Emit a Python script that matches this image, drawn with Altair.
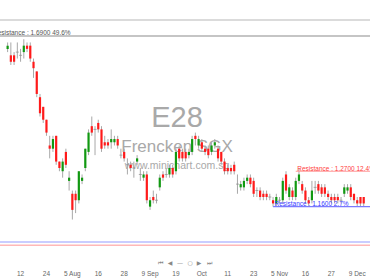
import altair as alt
import pandas as pd

# Daily candles (SGD), one per trading day
opens = [1.65, 1.63, 1.63, 1.64, 1.63, 1.64, 1.66, 1.66, 1.61, 1.58,
         1.50, 1.47, 1.43, 1.35, 1.34, 1.38, 1.30, 1.27, 1.33, 1.24,
         1.20, 1.20, 1.18, 1.24, 1.28, 1.33, 1.41, 1.40, 1.42, 1.40,
         1.36, 1.36, 1.36, 1.36, 1.37, 1.32, 1.33, 1.29, 1.29, 1.28,
         1.30, 1.26, 1.25, 1.26, 1.16, 1.19, 1.18, 1.22, 1.26, 1.26,
         1.26, 1.28, 1.27, 1.34, 1.33, 1.33, 1.32, 1.33, 1.38, 1.35,
         1.36, 1.34, 1.34, 1.33, 1.35, 1.34, 1.33, 1.30, 1.28, 1.28,
         1.29, 1.23, 1.22, 1.22, 1.24, 1.25, 1.24, 1.21, 1.21, 1.20,
         1.20, 1.19, 1.18, 1.17, 1.18, 1.18, 1.26, 1.19, 1.21, 1.19,
         1.24, 1.23, 1.21, 1.18, 1.18, 1.22, 1.23, 1.22, 1.22, 1.20,
         1.19, 1.19, 1.19, 1.18, 1.20, 1.21, 1.22, 1.20, 1.18, 1.19,
         1.19]
highs = [1.67, 1.67, 1.64, 1.67, 1.65, 1.68, 1.67, 1.67, 1.62, 1.58,
         1.51, 1.47, 1.43, 1.38, 1.38, 1.38, 1.30, 1.31, 1.34, 1.27,
         1.21, 1.21, 1.27, 1.26, 1.34, 1.40, 1.44, 1.41, 1.43, 1.41,
         1.38, 1.37, 1.40, 1.38, 1.38, 1.34, 1.34, 1.31, 1.30, 1.30,
         1.32, 1.28, 1.27, 1.27, 1.19, 1.21, 1.20, 1.26, 1.27, 1.28,
         1.29, 1.29, 1.34, 1.35, 1.34, 1.34, 1.34, 1.38, 1.39, 1.38,
         1.37, 1.35, 1.35, 1.36, 1.37, 1.35, 1.33, 1.31, 1.29, 1.29,
         1.30, 1.26, 1.24, 1.25, 1.26, 1.26, 1.25, 1.22, 1.22, 1.21,
         1.21, 1.20, 1.19, 1.20, 1.19, 1.25, 1.27, 1.23, 1.22, 1.25,
         1.28, 1.24, 1.22, 1.19, 1.24, 1.24, 1.24, 1.23, 1.23, 1.21,
         1.20, 1.20, 1.20, 1.19, 1.23, 1.23, 1.23, 1.20, 1.19, 1.19,
         1.19]
lows = [1.64, 1.60, 1.60, 1.62, 1.61, 1.62, 1.64, 1.61, 1.56, 1.50,
        1.44, 1.42, 1.38, 1.31, 1.33, 1.29, 1.27, 1.25, 1.28, 1.21,
        1.12, 1.14, 1.17, 1.23, 1.27, 1.32, 1.38, 1.32, 1.39, 1.33,
        1.34, 1.34, 1.34, 1.35, 1.34, 1.31, 1.30, 1.26, 1.27, 1.25,
        1.29, 1.24, 1.24, 1.17, 1.15, 1.17, 1.17, 1.21, 1.24, 1.25,
        1.25, 1.25, 1.26, 1.30, 1.30, 1.30, 1.31, 1.32, 1.35, 1.34,
        1.33, 1.32, 1.31, 1.32, 1.34, 1.30, 1.29, 1.26, 1.26, 1.26,
        1.26, 1.20, 1.21, 1.21, 1.23, 1.22, 1.19, 1.19, 1.18, 1.18,
        1.18, 1.18, 1.16, 1.16, 1.17, 1.17, 1.20, 1.18, 1.18, 1.18,
        1.23, 1.20, 1.17, 1.16, 1.17, 1.20, 1.20, 1.19, 1.19, 1.18,
        1.17, 1.17, 1.17, 1.17, 1.19, 1.20, 1.18, 1.17, 1.16, 1.16,
        1.16]
closes = [1.66, 1.61, 1.61, 1.64, 1.63, 1.66, 1.65, 1.62, 1.59, 1.51,
          1.45, 1.43, 1.39, 1.34, 1.37, 1.30, 1.28, 1.30, 1.29, 1.25,
          1.15, 1.18, 1.27, 1.25, 1.34, 1.39, 1.39, 1.40, 1.40, 1.34,
          1.35, 1.35, 1.37, 1.37, 1.35, 1.32, 1.31, 1.29, 1.28, 1.28,
          1.31, 1.26, 1.26, 1.18, 1.18, 1.18, 1.18, 1.25, 1.25, 1.26,
          1.28, 1.26, 1.33, 1.31, 1.31, 1.31, 1.33, 1.37, 1.37, 1.37,
          1.34, 1.33, 1.32, 1.35, 1.36, 1.31, 1.30, 1.27, 1.27, 1.27,
          1.27, 1.23, 1.23, 1.24, 1.25, 1.23, 1.20, 1.21, 1.19, 1.19,
          1.19, 1.19, 1.17, 1.19, 1.18, 1.24, 1.21, 1.22, 1.19, 1.24,
          1.26, 1.21, 1.18, 1.17, 1.21, 1.22, 1.21, 1.20, 1.20, 1.19,
          1.18, 1.18, 1.18, 1.18, 1.22, 1.22, 1.19, 1.18, 1.17, 1.17,
          1.17]

# Date labels along the bottom, every 8th session
tick_pos = [4, 12, 20, 28, 36, 44, 52, 60, 68, 76, 84, 92, 100, 108]
tick_text = ["12", "24", "5 Aug", "16", "28", "9 Sep", "19", "Oct",
             "11", "23", "5 Nov", "16", "27", "9 Dec"]

# Horizontal price levels: start session, price, label, colours
level_start = [-5, 89, 82]
level_price = [1.69, 1.27, 1.16]
level_text = ["Resistance : 1.6900 49.6%", "Resistance : 1.2700 12.4%",
              "Resistance : 1.1600 2.7%"]
level_line = ["#8c8c8c", "#ff9a9a", "#7a7aff"]
level_font = ["#555555", "#ff4040", "#3a3aff"]

# Frame guide lines
frame_price = [1.74, 1.05, 1.04]
frame_color = ["#cfcfcf", "#b8bcff", "#ffb8b8"]

W, H = 370, 278
x_dom = [-0.809, 110.40]
y_dom = [0.93845, 1.80180]

n = len(opens)
df = pd.DataFrame({"i": list(range(n)), "open": opens, "high": highs,
                   "low": lows, "close": closes})
df["dir"] = ["up" if c > o else ("down" if c < o else "flat")
             for o, c in zip(opens, closes)]

xs = alt.Scale(domain=x_dom, nice=False, zero=False)
ys = alt.Scale(domain=y_dom, nice=False, zero=False)
X = alt.X("i:Q", scale=xs, axis=None)

color = alt.Color("dir:N", legend=None,
                  scale=alt.Scale(domain=["up", "down", "flat"],
                                  range=["#119911", "#ff1a1a", "#9a9a9a"]))

frame_df = pd.DataFrame({"p": frame_price, "c": frame_color})
frame = alt.Chart(frame_df).mark_rule(strokeWidth=1.5).encode(
    y=alt.Y("p:Q", scale=ys, axis=None),
    color=alt.Color("c:N", scale=None, legend=None),
)

lv = pd.DataFrame({"s": level_start, "p": level_price, "t": level_text,
                   "lc": level_line, "fc": level_font})
level_rules = alt.Chart(lv).mark_rule(strokeWidth=1.2, clip=True).encode(
    x=alt.X("s:Q", scale=xs, axis=None),
    x2=alt.value(W),
    y=alt.Y("p:Q", scale=ys, axis=None),
    color=alt.Color("lc:N", scale=None, legend=None),
)
level_labels = alt.Chart(lv).mark_text(
    align="left", baseline="alphabetic", dx=1.5, dy=-0.5, fontSize=6.5,
    font="Liberation Sans",
).encode(
    x=alt.X("s:Q", scale=xs, axis=None),
    y=alt.Y("p:Q", scale=ys, axis=None),
    text="t:N",
    color=alt.Color("fc:N", scale=None, legend=None),
)

wicks = alt.Chart(df).mark_rule(strokeWidth=1, color="#a8a8a8").encode(
    x=X,
    y=alt.Y("low:Q", scale=ys, axis=None),
    y2="high:Q",
)
bodies = alt.Chart(df).transform_filter("datum.dir != 'flat'").mark_bar(
    size=2.2).encode(
    x=X,
    y=alt.Y("open:Q", scale=ys, axis=None),
    y2="close:Q",
    color=color,
)
flats = alt.Chart(df).transform_filter("datum.dir == 'flat'").mark_tick(
    orient="horizontal", size=3, thickness=1, color="#8a8a8a").encode(
    x=X,
    y=alt.Y("open:Q", scale=ys, axis=None),
)

wm_df = pd.DataFrame({"t": ["E28", "Frencken SGX", "www.minichart.com.sg"],
                      "y": [127, 152, 169], "s": [29, 17, 10.5]})
watermark = alt.Chart(wm_df).mark_text(
    align="center", baseline="alphabetic", font="Liberation Sans",
    color="#a0a0a0", opacity=0.9,
).encode(
    x=alt.value(177),
    y=alt.Y("y:Q", scale=None),
    size=alt.Size("s:Q", scale=None, legend=None),
    text="t:N",
)

ticks_df = pd.DataFrame({"i": tick_pos, "t": tick_text})
date_labels = alt.Chart(ticks_df).mark_text(
    align="center", baseline="middle", fontSize=6.5, color="#666666",
    font="Liberation Sans",
).encode(x=X, y=alt.value(274), text="t:N")

nav_df = pd.DataFrame({"x": [160, 170, 180, 190, 199, 209],
                       "t": ["⏮", "◀", "—", "○", "▶", "⏭"]})
nav = alt.Chart(nav_df).mark_text(
    align="center", baseline="middle", fontSize=6, color="#888888",
    font="DejaVu Sans",
).encode(x=alt.X("x:Q", scale=None), y=alt.value(263), text="t:N")

chart = alt.layer(
    frame, watermark, wicks, bodies, flats, level_rules, level_labels,
    date_labels, nav,
).properties(
    width=W, height=H, padding=0, autosize=alt.AutoSizeParams(type="none"),
    background="white",
).configure_view(stroke=None)

chart.save("out.html", embed_options={"renderer": "svg", "actions": False})
